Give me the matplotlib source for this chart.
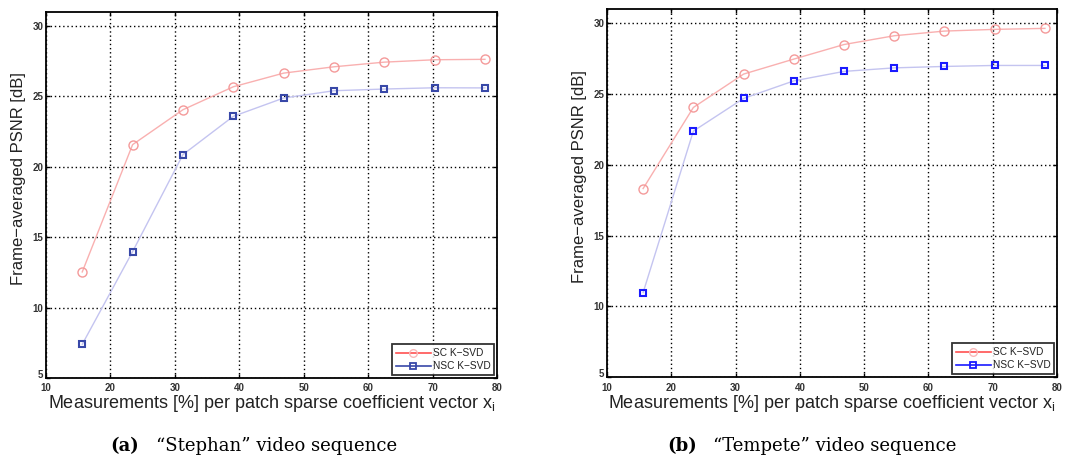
import matplotlib
matplotlib.use("Agg")
import matplotlib.pyplot as plt
import matplotlib.transforms as mtransforms
from matplotlib.lines import Line2D

# measurement ratio per patch (%) and frame-averaged PSNR (dB)
meas = [15.625, 23.4375, 31.25, 39.0625, 46.875, 54.6875, 62.5, 70.3125, 78.125]

stephan_sc = [12.53, 21.57, 24.05, 25.68, 26.65, 27.10, 27.43, 27.60, 27.63]
stephan_nsc = [7.39, 13.97, 20.86, 23.58, 24.88, 25.40, 25.52, 25.61, 25.60]

tempete_sc = [18.32, 24.05, 26.41, 27.47, 28.50, 29.12, 29.45, 29.57, 29.64]
tempete_nsc = [10.97, 22.38, 24.69, 25.93, 26.60, 26.85, 26.95, 27.02, 27.02]

xticks = [10, 20, 30, 40, 50, 60, 70, 80]
yticks = [5, 10, 15, 20, 25, 30]

panels = [
    ("(a)", "\u201cStephan\u201d video sequence", stephan_sc, stephan_nsc, "#3848a8"),
    ("(b)", "\u201cTempete\u201d video sequence", tempete_sc, tempete_nsc, "#1a1aff"),
]
boxes = [[0.0426, 0.173, 0.4176, 0.801], [0.562, 0.175, 0.4167, 0.805]]
caption_x = [(0.102, 0.144), (0.618, 0.660)]

plt.rcParams["font.family"] = ["Liberation Sans", "DejaVu Sans"]
fig = plt.figure(figsize=(10.8, 4.57), dpi=100)

for (tag, caption, sc, nsc, nsc_col), box, (tx, cx) in zip(panels, boxes, caption_x):
    ax = fig.add_axes(box)
    ax.plot(meas, sc, "-", color="#f9b0b0", linewidth=1.0, zorder=3)
    ax.plot(meas, sc, "o", mfc="none", mec="#f49a9a", markersize=6.5, mew=1.0, zorder=4)
    ax.plot(meas, nsc, "-", color="#c4c4f0", linewidth=1.0, zorder=3)
    ax.plot(meas, nsc, "s", mfc="none", mec=nsc_col, markersize=4.2, mew=1.5, zorder=4)

    ax.set_xlim(10, 80)
    ax.set_ylim(5, 31)
    ax.set_xticks(xticks)
    ax.set_yticks(yticks)
    ax.tick_params(direction="in", top=True, right=True, length=3, width=1,
                   labelsize=7, pad=2)
    ax.tick_params(axis="x", pad=4)
    for lab in ax.get_xticklabels() + ax.get_yticklabels():
        lab.set_fontweight("bold")
        lab.set_color("#333333")
    # lift the bottom "5" a little so it clears the "10" below it
    lift = mtransforms.ScaledTranslation(0, 3 / 72, fig.dpi_scale_trans)
    ax.get_yticklabels()[0].set_transform(ax.get_yticklabels()[0].get_transform() + lift)
    ax.grid(True, color="black", linestyle=(0, (1, 2)), linewidth=1.0)
    for s in ax.spines.values():
        s.set_linewidth(1.3)

    ax.set_ylabel("Frame\u2212averaged PSNR [dB]", fontsize=12, color="#222222")
    ax.yaxis.set_label_coords(-0.044, 0.545)
    ax.set_xlabel(r"Measurements [%] per patch sparse coefficient vector x$_{\mathregular{i}}$",
                  fontsize=13, color="#222222", labelpad=0)

    handles = [
        Line2D([], [], color="#ff5050", linewidth=1.2, marker="o", mfc="none",
               mec="#f8b8b8", markersize=5.5),
        Line2D([], [], color=nsc_col, linewidth=1.2, marker="s", mfc="none",
               mec=nsc_col, markersize=3.8, mew=1.3),
    ]
    leg = ax.legend(handles, ["SC K\u2212SVD", "NSC K\u2212SVD"], loc="lower right",
                    fontsize=7.3, frameon=True, fancybox=False, borderpad=0.4,
                    handlelength=3.4, handletextpad=0.2, labelspacing=0.3,
                    borderaxespad=0.25)
    leg.get_frame().set_edgecolor("black")
    leg.get_frame().set_linewidth(1.3)
    for t in leg.get_texts():
        t.set_color("#222222")

    fig.text(tx, 0.014, tag, fontsize=13, fontweight="bold",
             family=["DejaVu Serif"], ha="left", va="baseline")
    fig.text(cx, 0.014, caption, fontsize=13, family=["DejaVu Serif"],
             ha="left", va="baseline")

fig.savefig("out.png", dpi=100, facecolor="white")
